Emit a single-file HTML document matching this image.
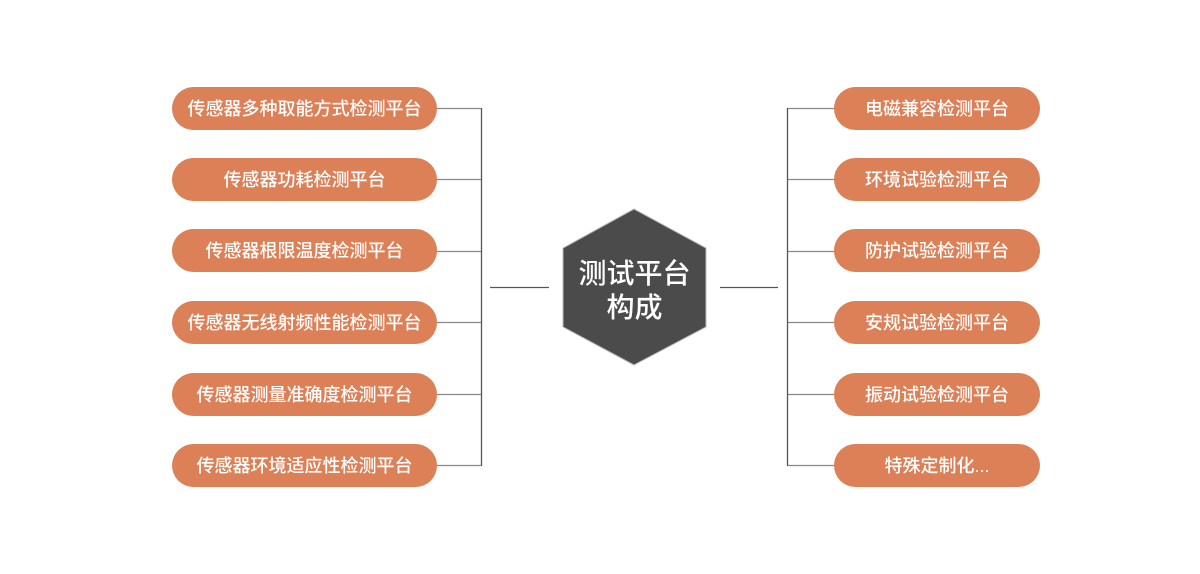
<!DOCTYPE html>
<html><head><meta charset="utf-8"><style>
html,body{margin:0;padding:0;background:#fff;}
.wrap{position:relative;width:1200px;height:574px;overflow:hidden;font-family:"Liberation Sans","Noto Sans CJK SC",sans-serif;}
.p{position:absolute;height:43px;border-radius:22px;background:#dc8057;color:#fff;font-size:18px;font-weight:500;line-height:45px;text-align:center;}
.l{left:172px;width:265px;}
.r{left:834px;width:206px;}
.t{position:absolute;left:553px;width:163px;top:257px;text-align:center;color:#fff;font-size:28px;font-weight:500;line-height:34px;}
</style></head><body><div class="wrap">
<svg width="1200" height="574" style="position:absolute;left:0;top:0">
<g stroke="#555" stroke-width="1.3" fill="none">
<line x1="481.5" y1="108" x2="481.5" y2="466"/>
<line x1="787.5" y1="108" x2="787.5" y2="466"/>
<line x1="490" y1="287.5" x2="549" y2="287.5"/>
<line x1="720" y1="287.5" x2="778" y2="287.5"/>
<g stroke="#888">
<line x1="437" y1="108.5" x2="481" y2="108.5"/><line x1="437" y1="179.5" x2="481" y2="179.5"/><line x1="437" y1="251.5" x2="481" y2="251.5"/><line x1="437" y1="322.5" x2="481" y2="322.5"/><line x1="437" y1="394.5" x2="481" y2="394.5"/><line x1="437" y1="465.5" x2="481" y2="465.5"/>
<line x1="788" y1="108.5" x2="834" y2="108.5"/><line x1="788" y1="179.5" x2="834" y2="179.5"/><line x1="788" y1="251.5" x2="834" y2="251.5"/><line x1="788" y1="322.5" x2="834" y2="322.5"/><line x1="788" y1="394.5" x2="834" y2="394.5"/><line x1="788" y1="465.5" x2="834" y2="465.5"/>
</g></g>
<polygon points="634,209 706,248 706,327 634,365 563,327 563,248" fill="#4b4b4b" stroke="#bbb" stroke-width="1"/>
</svg>
<div class="t">测试平台<br>构成</div>
<div class="p l" style="top:87px">传感器多种取能方式检测平台</div>
<div class="p l" style="top:158px">传感器功耗检测平台</div>
<div class="p l" style="top:229px">传感器根限温度检测平台</div>
<div class="p l" style="top:301px">传感器无线射频性能检测平台</div>
<div class="p l" style="top:373px">传感器测量准确度检测平台</div>
<div class="p l" style="top:444px">传感器环境适应性检测平台</div>
<div class="p r" style="top:87px">电磁兼容检测平台</div>
<div class="p r" style="top:158px">环境试验检测平台</div>
<div class="p r" style="top:229px">防护试验检测平台</div>
<div class="p r" style="top:301px">安规试验检测平台</div>
<div class="p r" style="top:373px">振动试验检测平台</div>
<div class="p r" style="top:444px">特殊定制化...</div>
</div></body></html>
